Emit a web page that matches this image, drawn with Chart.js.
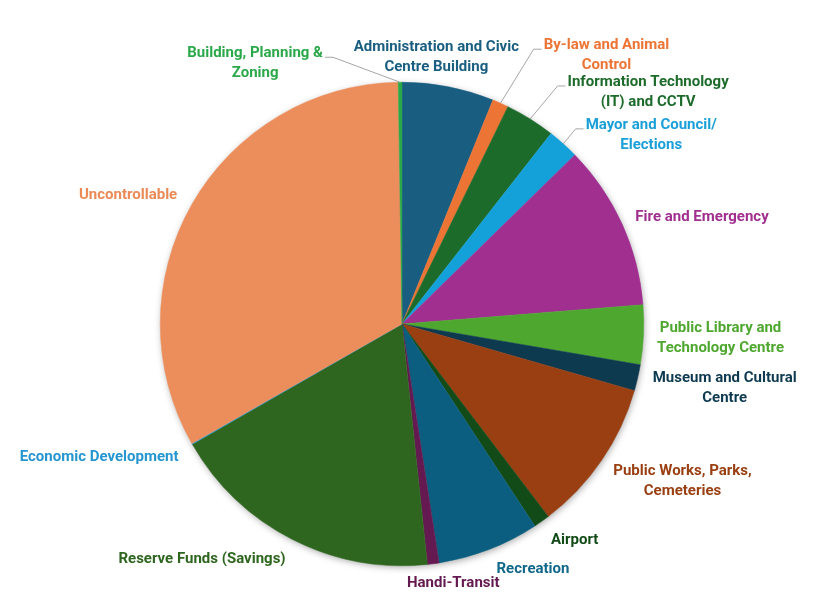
<!DOCTYPE html>
<html>
<head>
<meta charset="utf-8">
<script src="https://cdn.jsdelivr.net/npm/chart.js@4.4.1/dist/chart.umd.min.js"></script>
<style>
    html, body { margin: 0; padding: 0; background: #fff; }
</style>
</head>
<body>
<canvas id="budgetPie" width="832" height="604"></canvas>
<script>
// Budget share by department (percent of total), clockwise from 12 o'clock
const categories = [
    ['Administration and Civic', 'Centre Building'],
    ['By-law and Animal', 'Control'],
    ['Information Technology', '(IT) and CCTV'],
    ['Mayor and Council/', 'Elections'],
    ['Fire and Emergency'],
    ['Public Library and', 'Technology Centre'],
    ['Museum and Cultural', 'Centre'],
    ['Public Works, Parks,', 'Cemeteries'],
    ['Airport'],
    ['Recreation'],
    ['Handi-Transit'],
    ['Reserve Funds (Savings)'],
    ['Economic Development'],
    ['Uncontrollable'],
    ['Building, Planning &', 'Zoning']
];
const shares = [6.14, 1.08, 3.35, 2.11, 11.06, 3.97, 1.75, 10.22, 1.08, 6.81, 0.78, 18.39, 0.06, 33.0, 0.25];

const sliceColors = [
    '#195e80', '#ec7434', '#1d6b2b', '#14a0d9', '#a02f90', '#4ea72e', '#0e3a50', '#993f12',
    '#124a18', '#0b5e7f', '#641a50', '#2f661f', '#1f99d4', '#ec8e5c', '#2ba84a'
];
const labelColors = [
    '#195e80', '#ec7434', '#1d6b2b', '#1a9fd8', '#a02f90', '#4ea72e', '#0e3a50', '#993f12',
    '#124a18', '#12688a', '#641a50', '#2f661f', '#2596cf', '#e98a57', '#2ba84a'
];

// label block centre, relative to the arc edge at each slice's mid angle
const labelOffsets = [
    [-12, -30], [106, -49], [118, -28], [88, -10], [80, -8], [77, 2], [87, 9], [81, 20],
    [33, 18], [44, 19], [20, 19], [-90, 19], [-93, 12], [-64, -10], [-145, -20]
];
const leaderSlices = [1, 2, 3, 14];

const pieShadow = {
    id: 'pieShadow',
    beforeDatasetsDraw(chart) {
        const arc = chart.getDatasetMeta(0).data[0];
        if (!arc) return;
        const { x, y, outerRadius } = arc.getProps(['x', 'y', 'outerRadius'], true);
        const ctx = chart.ctx;
        ctx.save();
        ctx.shadowColor = 'rgba(0,0,0,0.35)';
        ctx.shadowBlur = 7;
        ctx.shadowOffsetX = 1;
        ctx.shadowOffsetY = 2;
        ctx.fillStyle = '#ffffff';
        ctx.beginPath();
        ctx.arc(x, y, outerRadius - 0.5, 0, Math.PI * 2);
        ctx.fill();
        ctx.restore();
    }
};

const sliceLabels = {
    id: 'sliceLabels',
    afterDatasetsDraw(chart) {
        const ctx = chart.ctx;
        const lineHeight = 20;
        ctx.save();
        ctx.font = 'bold 15px Roboto';
        ctx.textAlign = 'center';
        ctx.textBaseline = 'middle';
        chart.getDatasetMeta(0).data.forEach((arc, i) => {
            const p = arc.getProps(['x', 'y', 'startAngle', 'endAngle', 'outerRadius'], true);
            const mid = (p.startAngle + p.endAngle) / 2;
            const ex = p.x + Math.cos(mid) * p.outerRadius;
            const ey = p.y + Math.sin(mid) * p.outerRadius;
            const [dx, dy] = labelOffsets[i];
            const cx = ex + dx;
            const cy = ey + dy;
            const lines = chart.data.labels[i];
            const top = cy - lines.length * lineHeight / 2;

            if (leaderSlices.includes(i)) {
                const w = Math.max(...lines.map(t => ctx.measureText(t).width));
                const side = dx > 0 ? 1 : -1;
                const edge = cx - side * w / 2;
                const ly = top + 15;
                ctx.strokeStyle = '#a6a6a6';
                ctx.lineWidth = 1;
                ctx.beginPath();
                ctx.moveTo(ex, ey);
                ctx.lineTo(edge - side * 10, ly);
                ctx.lineTo(edge - side * 2, ly);
                ctx.stroke();
            }

            ctx.fillStyle = labelColors[i];
            lines.forEach((t, k) => ctx.fillText(t, cx, top + lineHeight * (k + 0.5) + 1));
        });
        ctx.restore();
    }
};

new Chart(document.getElementById('budgetPie'), {
    type: 'pie',
    data: {
        labels: categories,
        datasets: [{
            data: shares,
            backgroundColor: sliceColors,
            borderColor: sliceColors,
            borderWidth: 0.5,
            hoverOffset: 0
        }]
    },
    options: {
        responsive: false,
        animation: false,
        layout: { padding: { left: 160, right: 188, top: 82, bottom: 38 } },
        plugins: {
            legend: { display: false },
            tooltip: { enabled: false }
        }
    },
    plugins: [pieShadow, sliceLabels]
});
</script>
</body>
</html>
